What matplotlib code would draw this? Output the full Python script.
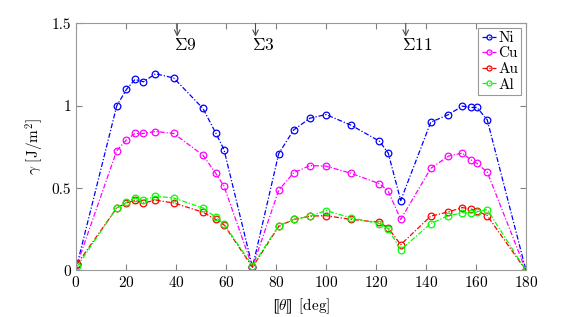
import matplotlib
matplotlib.use("Agg")
import matplotlib.pyplot as plt

plt.rcParams['font.family'] = 'serif'
plt.rcParams['font.serif'] = ['cmr10', 'DejaVu Serif']
plt.rcParams['mathtext.fontset'] = 'cm'
plt.rcParams['axes.unicode_minus'] = False
plt.rcParams['axes.formatter.use_mathtext'] = True

# misorientation angles [deg]
angles = [0.5, 16.3, 20.2, 23.6, 27.0, 31.8, 39.1, 50.8, 55.9, 59.2, 70.6,
          81.1, 87.1, 93.6, 100.0, 110.1, 121.4, 124.9, 129.9, 141.9, 149.0,
          154.5, 157.9, 160.4, 164.5, 180.0]

ni = [0.04, 1.00, 1.10, 1.16, 1.146, 1.195, 1.169, 0.984, 0.835, 0.734, 0.02,
      0.71, 0.854, 0.925, 0.947, 0.882, 0.785, 0.713, 0.425, 0.90, 0.947,
      0.998, 0.99, 0.99, 0.915, 0.0]
cu = [0.04, 0.728, 0.793, 0.832, 0.832, 0.844, 0.832, 0.70, 0.59, 0.512, 0.02,
      0.488, 0.594, 0.637, 0.634, 0.59, 0.527, 0.482, 0.31, 0.62, 0.695,
      0.713, 0.673, 0.65, 0.598, 0.0]
au = [0.04, 0.38, 0.41, 0.427, 0.41, 0.427, 0.41, 0.354, 0.31, 0.277, 0.02,
      0.268, 0.31, 0.33, 0.333, 0.31, 0.293, 0.258, 0.157, 0.33, 0.356,
      0.382, 0.374, 0.362, 0.333, 0.0]
al = [0.025, 0.38, 0.415, 0.44, 0.427, 0.451, 0.44, 0.38, 0.323, 0.283, 0.028,
      0.273, 0.31, 0.33, 0.364, 0.319, 0.285, 0.252, 0.126, 0.285, 0.333,
      0.35, 0.35, 0.356, 0.37, 0.0]

series = [("Ni", ni, "#0000ff"), ("Cu", cu, "#ff00ff"),
          ("Au", au, "#ff0000"), ("Al", al, "#00ff00")]

sigma_labels = [r"$\Sigma 9$", r"$\Sigma 3$", r"$\Sigma 11$"]
sigma_angles = [40.5, 71.8, 131.9]

fig = plt.figure(figsize=(5.81, 3.17), dpi=100)
ax = fig.add_axes([0.1308, 0.1467, 0.7745, 0.7792])

for name, vals, col in series:
    ax.plot(angles, vals, linestyle=(0, (4, 1.5, 1, 1.5)), marker='o',
            color=col, lw=0.9, markersize=4.8, markerfacecolor='none',
            markeredgewidth=0.9, label=name)

for lab, a in zip(sigma_labels, sigma_angles):
    ax.annotate("", xy=(a, 1.42), xytext=(a, 1.5),
                arrowprops=dict(arrowstyle='->', color='0.3', lw=0.8,
                                shrinkA=0, shrinkB=0))
    ax.text(a - 1.4, 1.37, lab, ha='left', va='center', fontsize=12.5)

ax.set_xlim(0, 180)
ax.set_ylim(0, 1.5)
ax.set_xticks(range(0, 181, 20))
ax.set_yticks([0, 0.5, 1, 1.5])
ax.set_yticklabels(["0", "0.5", "1", "1.5"])
ax.tick_params(direction='in', top=True, right=True, labelsize=11,
               color='0.5', length=4)
for s in ax.spines.values():
    s.set_color('0.6')
    s.set_linewidth(0.8)

ax.set_xlabel(r"$⟦\theta⟧$ [deg]", fontsize=11)
ax.set_ylabel(r"$\gamma$ [J/m$^2$]", fontsize=11)

leg = ax.legend(loc='upper right', fontsize=11, handlelength=0.95,
                handletextpad=0.15, borderpad=0.2, labelspacing=0.12,
                borderaxespad=0.3, markerscale=0.75, fancybox=False,
                framealpha=1)
leg.get_frame().set_edgecolor('0.6')
leg.get_frame().set_linewidth(0.8)

fig.savefig("out.png", dpi=100)
